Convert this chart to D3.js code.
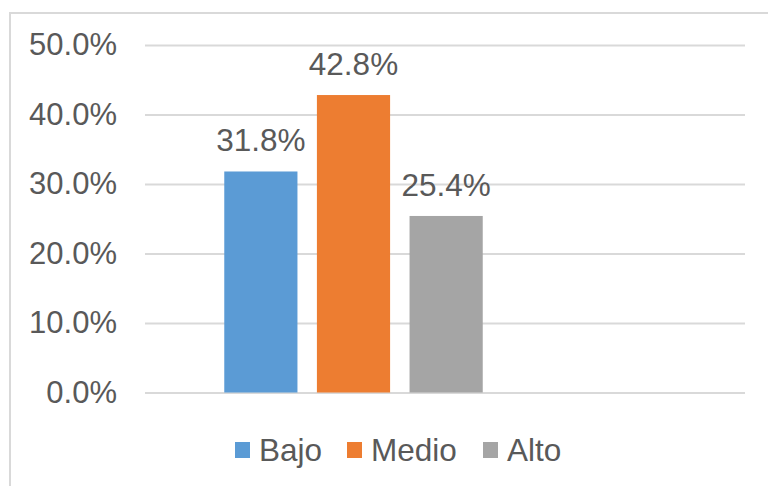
<!DOCTYPE html>
<html>
<head>
<meta charset="utf-8">
<script src="https://cdn.jsdelivr.net/npm/d3@7"></script>
<style>
  html, body { margin: 0; padding: 0; background: #fff; }
  svg { display: block; }
</style>
</head>
<body>
<script>
// data
const series = ['Bajo', 'Medio', 'Alto'];
const values = [31.8, 42.8, 25.4];
const colors = ['#5B9BD5', '#ED7D31', '#A5A5A5'];
const yTicks = [0, 10, 20, 30, 40, 50];

const width = 768;
const height = 486;
const font = '"Liberation Sans", Arial, sans-serif';
const textColor = '#595959';
const fontSize = 31.5;

const svg = d3.select('body').append('svg')
    .attr('width', width)
    .attr('height', height)
    .attr('viewBox', [0, 0, width, height]);

// chart frame (only top and left edges visible in the crop)
svg.append('path')
    .attr('d', `M10,${height} V13 H${width}`)
    .attr('fill', 'none')
    .attr('stroke', '#d9d9d9')
    .attr('stroke-width', 2);

const plotLeft = 145, plotRight = 745;
const y = d3.scaleLinear([0, 50], [392.5, 45]);
const x = d3.scaleBand(series, [215, 492]).paddingInner(0.21).paddingOuter(0.1);

// gridlines + y labels
const yAxis = d3.axisLeft(y)
    .tickValues(yTicks)
    .tickFormat(d => d3.format('.1f')(d) + '%')
    .tickSize(-(plotRight - plotLeft))
    .tickPadding(28);

svg.append('g')
    .attr('transform', `translate(${plotLeft},0)`)
    .call(yAxis)
    .call(g => g.select('.domain').remove())
    .call(g => g.selectAll('.tick line').attr('stroke', '#d9d9d9').attr('stroke-width', 2))
    .call(g => g.selectAll('.tick text')
        .attr('fill', textColor)
        .attr('font-family', font)
        .attr('font-size', 31));

// bars
svg.append('g')
    .selectAll('rect')
    .data(series)
    .join('rect')
    .attr('x', d => x(d))
    .attr('y', (d, i) => y(values[i]))
    .attr('width', x.bandwidth())
    .attr('height', (d, i) => y(0) - y(values[i]))
    .attr('fill', (d, i) => colors[i]);

// value labels
svg.append('g')
    .attr('font-family', font)
    .attr('font-size', fontSize)
    .attr('fill', textColor)
    .attr('text-anchor', 'middle')
    .selectAll('text')
    .data(series)
    .join('text')
    .attr('x', d => x(d) + x.bandwidth() / 2)
    .attr('y', (d, i) => y(values[i]) - 20)
    .text((d, i) => d3.format('.1f')(values[i]) + '%');

// legend
const legendX = [235, 347, 483];
const legend = svg.append('g')
    .attr('font-family', font)
    .attr('font-size', fontSize)
    .attr('fill', textColor)
    .selectAll('g')
    .data(series)
    .join('g')
    .attr('transform', (d, i) => `translate(${legendX[i]},442)`);

legend.append('rect')
    .attr('width', 15)
    .attr('height', 16)
    .attr('fill', (d, i) => colors[i]);

legend.append('text')
    .attr('x', 24)
    .attr('y', 19)
    .text(d => d);
</script>
</body>
</html>
